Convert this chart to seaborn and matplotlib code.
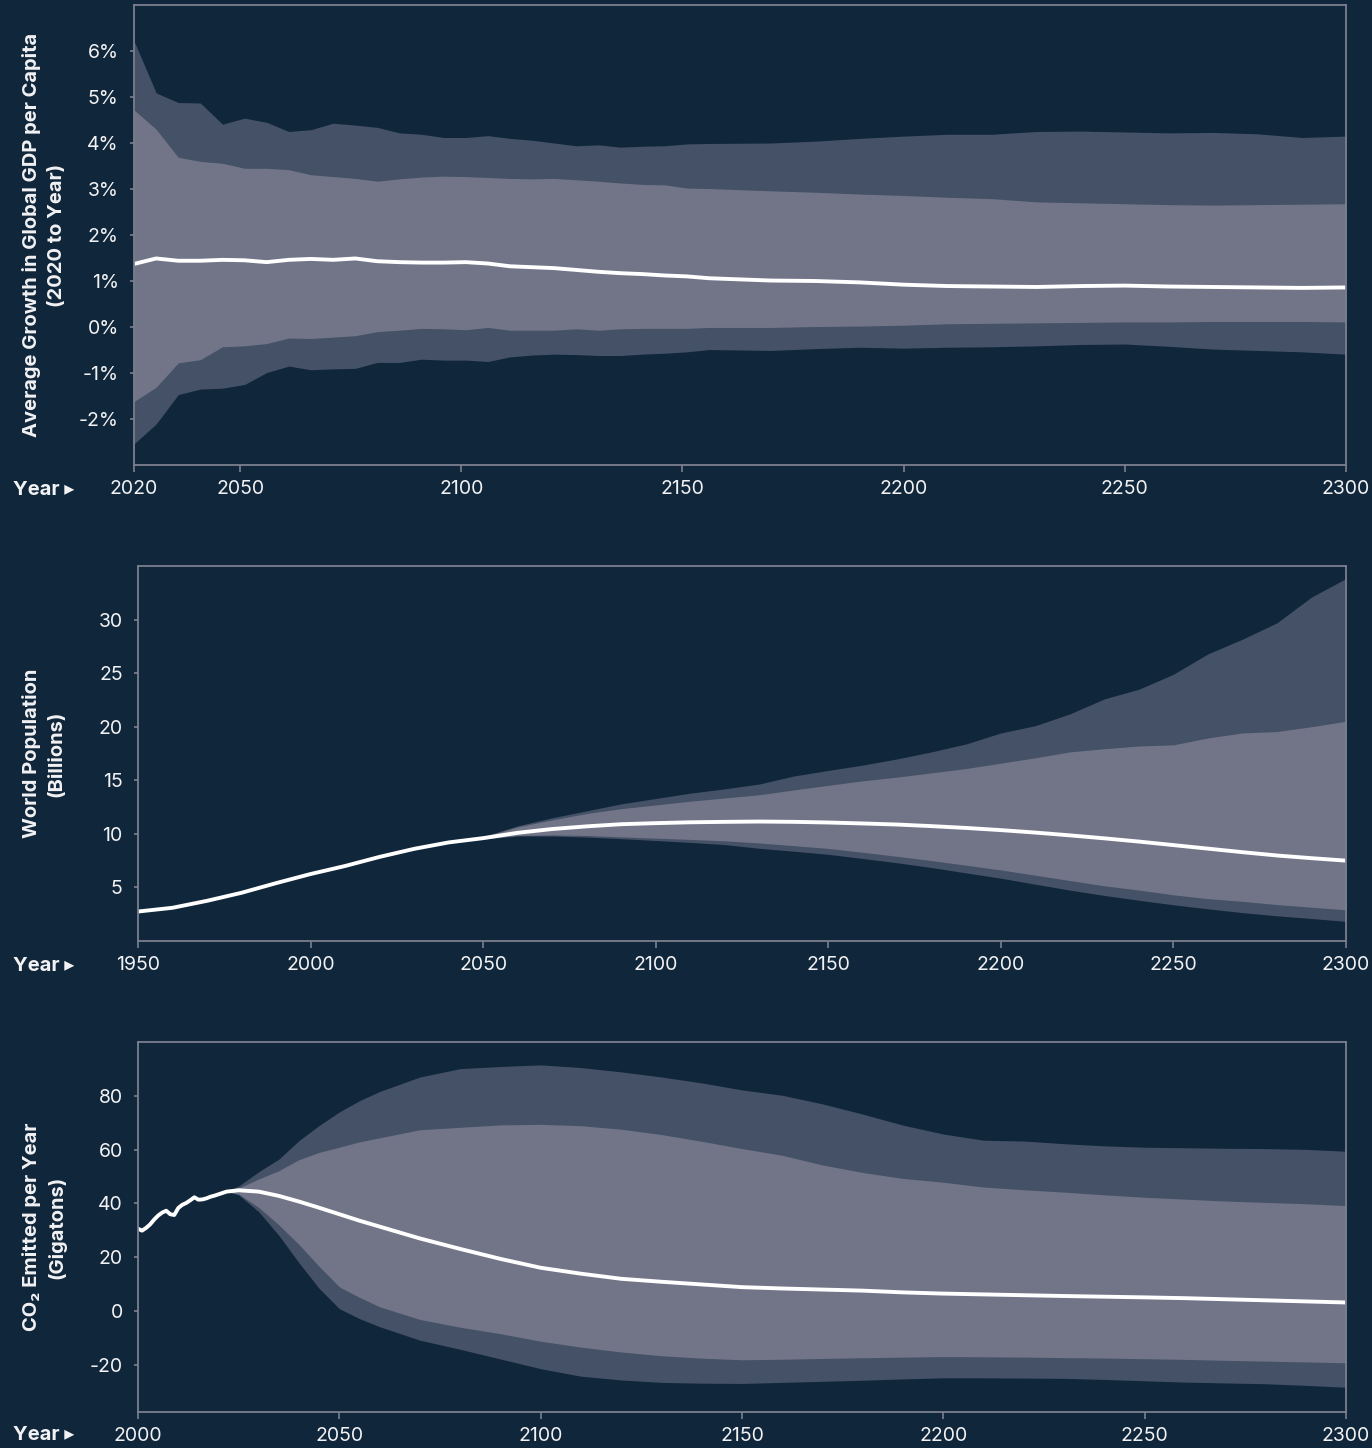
import numpy as np
import pandas as pd
import matplotlib
matplotlib.use('Agg')  # Use non-interactive backend
import matplotlib.pyplot as plt
import seaborn as sns

# GDP growth per capita, average 2020 -> year (percent)
gdp_years = [2026, 2031, 2036, 2041, 2046, 2051, 2056, 2061, 2066, 2071, 2076, 2081, 2086, 2091,
             2096, 2101, 2106, 2111, 2116, 2121, 2126, 2131, 2136, 2141, 2146, 2151, 2156,
             2170, 2180, 2190, 2200, 2210, 2220, 2230, 2240, 2250, 2260, 2270, 2280, 2290, 2300]
gdp_p95 = [6.22, 5.09, 4.88, 4.87, 4.41, 4.54, 4.45, 4.25, 4.29, 4.43, 4.39, 4.34, 4.22, 4.19,
           4.12, 4.12, 4.16, 4.10, 4.06, 4.00, 3.94, 3.96, 3.91, 3.93, 3.94, 3.98, 3.99,
           4.00, 4.04, 4.10, 4.15, 4.19, 4.19, 4.25, 4.26, 4.24, 4.22, 4.23, 4.20, 4.12, 4.15]
gdp_p83 = [4.72, 4.30, 3.69, 3.60, 3.56, 3.45, 3.45, 3.42, 3.31, 3.27, 3.23, 3.17, 3.22, 3.26,
           3.28, 3.27, 3.25, 3.23, 3.22, 3.23, 3.20, 3.17, 3.13, 3.10, 3.09, 3.02, 3.01,
           2.96, 2.93, 2.89, 2.86, 2.82, 2.79, 2.72, 2.70, 2.68, 2.66, 2.65, 2.66, 2.67, 2.68]
gdp_median = [1.37, 1.49, 1.44, 1.44, 1.46, 1.45, 1.41, 1.46, 1.48, 1.46, 1.49, 1.43, 1.41, 1.40,
              1.40, 1.41, 1.38, 1.32, 1.30, 1.28, 1.24, 1.20, 1.17, 1.15, 1.12, 1.10, 1.06,
              1.01, 1.00, 0.97, 0.92, 0.89, 0.88, 0.87, 0.89, 0.90, 0.88, 0.87, 0.86, 0.85, 0.86]
gdp_p17 = [-1.62, -1.31, -0.78, -0.71, -0.43, -0.41, -0.36, -0.24, -0.25, -0.22, -0.19, -0.10, -0.07, -0.03,
           -0.04, -0.06, -0.01, -0.07, -0.07, -0.07, -0.04, -0.07, -0.04, -0.03, -0.03, -0.03, -0.01,
           -0.01, 0.01, 0.02, 0.04, 0.07, 0.08, 0.09, 0.10, 0.11, 0.11, 0.12, 0.12, 0.12, 0.11]
gdp_p5 = [-2.54, -2.11, -1.47, -1.35, -1.33, -1.25, -0.99, -0.85, -0.93, -0.91, -0.90, -0.77, -0.77, -0.70,
          -0.72, -0.72, -0.75, -0.65, -0.61, -0.59, -0.60, -0.62, -0.62, -0.59, -0.57, -0.54, -0.49,
          -0.51, -0.47, -0.44, -0.46, -0.44, -0.43, -0.41, -0.38, -0.37, -0.42, -0.48, -0.51, -0.54, -0.59]
gdp_ticks = [2026, 2050, 2100, 2150, 2200, 2250, 2300]
gdp_tick_labels = ['2020', '2050', '2100', '2150', '2200', '2250', '2300']

# World population (billions)
pop_years = [1950, 1960, 1970, 1980, 1990, 2000, 2010, 2020, 2030, 2040, 2050, 2060, 2070, 2080,
             2090, 2100, 2110, 2120, 2130, 2140, 2150, 2160, 2170, 2180, 2190, 2200, 2210, 2220,
             2230, 2240, 2250, 2260, 2270, 2280, 2290, 2300]
pop_median = [2.75, 3.1, 3.75, 4.5, 5.4, 6.25, 7.0, 7.85, 8.6, 9.2, 9.6, 10.1, 10.45, 10.7,
              10.9, 11.0, 11.08, 11.12, 11.15, 11.12, 11.06, 10.97, 10.87, 10.72, 10.55, 10.35, 10.12, 9.86,
              9.58, 9.28, 8.95, 8.62, 8.29, 7.98, 7.73, 7.50]
pop_proj_years = [2045, 2050, 2060, 2070, 2080, 2090, 2100, 2110, 2120, 2130, 2140, 2150, 2160, 2170,
                  2180, 2190, 2200, 2210, 2220, 2230, 2240, 2250, 2260, 2270, 2280, 2290, 2300]
pop_p95 = [9.4, 9.75, 10.75, 11.5, 12.15, 12.8, 13.3, 13.8, 14.2, 14.65, 15.4, 15.92, 16.42, 17.0,
           17.66, 18.4, 19.42, 20.1, 21.2, 22.6, 23.5, 24.9, 26.8, 28.17, 29.7, 32.1, 33.83]
pop_p83 = [9.4, 9.7, 10.65, 11.3, 11.9, 12.35, 12.7, 13.05, 13.35, 13.65, 14.1, 14.53, 14.95, 15.3,
           15.7, 16.1, 16.6, 17.1, 17.65, 17.95, 18.2, 18.31, 18.95, 19.42, 19.55, 20.0, 20.51]
pop_p17 = [9.4, 9.55, 9.85, 9.9, 9.85, 9.72, 9.6, 9.48, 9.35, 9.15, 8.9, 8.64, 8.28, 7.9,
           7.5, 7.07, 6.63, 6.14, 5.64, 5.15, 4.75, 4.31, 3.95, 3.7, 3.4, 3.15, 2.91]
pop_p5 = [9.4, 9.5, 9.8, 9.8, 9.7, 9.55, 9.38, 9.2, 9.0, 8.65, 8.38, 8.09, 7.7, 7.3,
          6.85, 6.35, 5.86, 5.3, 4.75, 4.25, 3.8, 3.38, 3.0, 2.65, 2.35, 2.1, 1.83]

# CO2 emitted per year (gigatons)
co2_hist_years = [2000, 2001, 2002, 2003, 2004, 2005, 2006, 2007, 2008, 2009, 2010, 2011,
                  2012, 2013, 2014, 2015, 2016, 2017, 2018, 2019, 2020, 2021, 2022]
co2_hist = [30.6, 29.9, 30.9, 32.2, 34.0, 35.5, 36.6, 37.3, 36.0, 35.7, 38.3, 39.5,
            40.2, 41.2, 42.3, 41.4, 41.5, 41.9, 42.5, 42.9, 43.4, 43.9, 44.4]
co2_proj_years = [2022, 2025, 2030, 2035, 2040, 2045, 2050, 2055, 2060, 2070, 2080, 2090, 2100,
                  2110, 2120, 2130, 2140, 2150, 2160, 2170, 2180, 2190, 2200, 2210, 2220, 2230,
                  2240, 2250, 2260, 2270, 2280, 2290, 2300]
co2_median = [44.4, 44.9, 44.4, 42.8, 40.7, 38.4, 36.0, 33.6, 31.4, 27.0, 23.1, 19.4, 16.1,
              13.9, 12.0, 10.9, 9.9, 8.9, 8.4, 8.0, 7.6, 6.95, 6.5, 6.2, 5.9, 5.6,
              5.35, 5.1, 4.8, 4.4, 4.0, 3.6, 3.2]
co2_p95 = [44.4, 46.5, 51.8, 56.5, 63.4, 69.0, 74.0, 78.2, 81.6, 87.0, 90.1, 90.9, 91.5,
           90.5, 88.9, 87.0, 84.8, 82.2, 80.2, 77.0, 73.2, 69.1, 65.8, 63.5, 63.2, 62.2,
           61.4, 60.9, 60.7, 60.5, 60.4, 60.1, 59.4]
co2_p83 = [44.4, 45.7, 49.1, 52.2, 56.3, 59.0, 60.9, 62.9, 64.4, 67.4, 68.3, 69.2, 69.4,
           68.9, 67.6, 65.6, 63.1, 60.4, 57.9, 54.3, 51.5, 49.3, 47.9, 46.1, 45.1, 44.2,
           43.2, 42.3, 41.6, 40.9, 40.4, 39.9, 39.2]
co2_p17 = [44.4, 43.5, 38.5, 32.0, 24.7, 16.6, 9.0, 5.1, 1.6, -3.1, -6.0, -8.4, -11.2,
           -13.4, -15.2, -16.6, -17.5, -18.1, -17.9, -17.6, -17.35, -17.1, -16.9, -17.0, -17.1, -17.3,
           -17.45, -17.7, -17.95, -18.3, -18.6, -18.9, -19.2]
co2_p5 = [44.4, 43.2, 36.9, 28.1, 17.9, 8.4, 0.9, -2.8, -5.8, -10.8, -14.2, -17.8, -21.4,
          -24.2, -25.6, -26.5, -26.8, -26.9, -26.5, -26.1, -25.7, -25.2, -24.8, -24.8, -24.9, -25.0,
          -25.4, -25.9, -26.4, -26.7, -27.0, -27.6, -28.3]

BG = '#10263a'
DARK_BAND = '#445166'
LIGHT_BAND = '#717587'
SPINE = '#7c7f8f'
TEXT = '#f2f2f4'
W, H = 1372, 1448

sns.set_theme(style='dark')
plt.rcParams['font.family'] = ['Inter', 'DejaVu Sans']
plt.rcParams['axes.unicode_minus'] = False

fig = plt.figure(figsize=(W / 100, H / 100), dpi=100, facecolor=BG)


def px_axes(left, top, right, bottom):
    return fig.add_axes([left / W, 1 - bottom / H, (right - left) / W, (bottom - top) / H])


def fan(ax, years, p5, p17, p83, p95, med_years, med):
    ax.fill_between(years, p5, p95, color=DARK_BAND, linewidth=0)
    ax.fill_between(years, p17, p83, color=LIGHT_BAND, linewidth=0)
    line = pd.DataFrame({'year': med_years, 'value': med})
    sns.lineplot(data=line, x='year', y='value', ax=ax, color='white',
                 linewidth=2.8, estimator=None)


def style(ax, ylabel, label_x, year_y):
    ax.set_facecolor(BG)
    for s in ax.spines.values():
        s.set_visible(True)
        s.set_color(SPINE)
        s.set_linewidth(1.3)
    ax.grid(False)
    ax.tick_params(axis='x', bottom=True, direction='out', length=5, width=1.2,
                   color=SPINE, labelcolor=TEXT, labelsize=14, pad=6)
    ax.tick_params(axis='y', left=True, direction='out', length=3, width=1.2,
                   color=SPINE, labelcolor=TEXT, labelsize=14, pad=8)
    ax.set_xlabel('')
    ax.set_ylabel(ylabel, color=TEXT, fontsize=14.5, fontweight='bold',
                  linespacing=1.45, va='center')
    ax.yaxis.set_label_coords(label_x, 0.5)
    fig.text(13 / W, 1 - year_y / H, 'Year \u25b8', color=TEXT, fontsize=14.5,
             fontweight='bold', ha='left', va='center')


# Panel 1: GDP growth
ax1 = px_axes(134, 5, 1346, 465)
fan(ax1, gdp_years, gdp_p5, gdp_p17, gdp_p83, gdp_p95, gdp_years, gdp_median)
ax1.set_xlim(2026, 2300)
ax1.set_ylim(-3, 7)
ax1.set_xticks(gdp_ticks)
ax1.set_xticklabels(gdp_tick_labels)
yt = [-2, -1, 0, 1, 2, 3, 4, 5, 6]
ax1.set_yticks(yt)
ax1.set_yticklabels([f'{v}%' for v in yt])
style(ax1, 'Average Growth in Global GDP per Capita\n(2020 to Year)', (44 - 134) / 1212, 490)

# Panel 2: population
ax2 = px_axes(138, 566, 1346, 941)
fan(ax2, pop_proj_years, pop_p5, pop_p17, pop_p83, pop_p95, pop_years, pop_median)
ax2.set_xlim(1950, 2300)
ax2.set_ylim(0, 35)
ax2.set_xticks([1950, 2000, 2050, 2100, 2150, 2200, 2250, 2300])
ax2.set_yticks([5, 10, 15, 20, 25, 30])
style(ax2, 'World Population\n(Billions)', (44 - 138) / 1208, 966)

# Panel 3: CO2 emissions
ax3 = px_axes(138, 1042, 1346, 1412)
co2_line_years = co2_hist_years + co2_proj_years[1:]
co2_line = co2_hist + co2_median[1:]
fan(ax3, co2_proj_years, co2_p5, co2_p17, co2_p83, co2_p95, co2_line_years, co2_line)
ax3.set_xlim(2000, 2300)
ax3.set_ylim(-37.5, 100)
ax3.set_xticks([2000, 2050, 2100, 2150, 2200, 2250, 2300])
ax3.set_yticks([-20, 0, 20, 40, 60, 80])
style(ax3, 'CO\u2082 Emitted per Year\n(Gigatons)', (44 - 138) / 1208, 1435)

fig.savefig('out.png', dpi=100, facecolor=BG)
print('Saved: out.png')
